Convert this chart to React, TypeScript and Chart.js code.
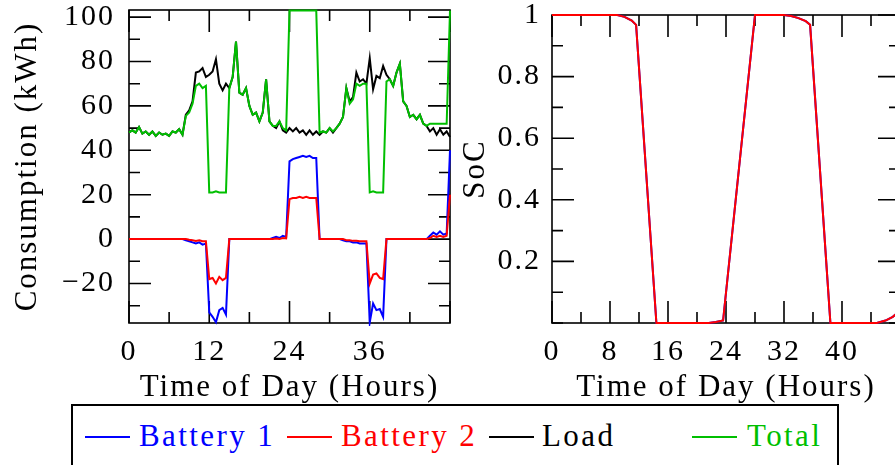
import React, { useEffect, useRef } from "react";
import { Chart, registerables } from "chart.js";

Chart.register(...registerables);

// ---------- DATA ----------
const hours = [
  0, 0.5, 1, 1.5, 2, 2.5, 3, 3.5, 4, 4.5,
  5, 5.5, 6, 6.5, 7, 7.5, 8, 8.5, 9, 9.5,
  10, 10.5, 11, 11.5, 12, 12.5, 13, 13.5, 14, 14.5,
  15, 15.5, 16, 16.5, 17, 17.5, 18, 18.5, 19, 19.5,
  20, 20.5, 21, 21.5, 22, 22.5, 23, 23.5, 24, 24.5,
  25, 25.5, 26, 26.5, 27, 27.5, 28, 28.5, 29, 29.5,
  30, 30.5, 31, 31.5, 32, 32.5, 33, 33.5, 34, 34.5,
  35, 35.5, 36, 36.5, 37, 37.5, 38, 38.5, 39, 39.5,
  40, 40.5, 41, 41.5, 42, 42.5, 43, 43.5, 44, 44.5,
  45, 45.5, 46, 46.5, 47, 47.5, 48,
];

const battery1 = [
  0, 0, 0, 0, 0, 0, 0, 0, 0, 0,
  0, 0, 0, 0, 0, 0, 0, -0.5, -1, -1.5,
  -2, -1.5, -2.5, -2, -33, -35, -37.5, -32, -31, -34,
  0, 0, 0, 0, 0, 0, 0, 0, 0, 0,
  0, 0, 0, 0.5, 1, 0.5, 1.5, 1, 35, 36,
  36.5, 37, 37.5, 37, 37.5, 36.5, 36.5, 0, 0, 0,
  0, 0, 0, 0, -0.5, -1, -1, -1.5, -1.5, -2,
  -2, -2, -37.5, -29, -32, -31.5, -35, 0, 0, 0,
  0, 0, 0, 0, 0, 0, 0, 0, 0, 0,
  1.5, 3, 2, 3.5, 2, 2.5, 40,
];

const battery2 = [
  0, 0, 0, 0, 0, 0, 0, 0, 0, 0,
  0, 0, 0, 0, 0, 0, 0, 0, -0.3, -0.5,
  -0.8, -0.5, -1, -1, -18, -17.5, -20, -17, -18.5, -17.5,
  0, 0, 0, 0, 0, 0, 0, 0, 0, 0,
  0, 0, 0, 0, 0.3, 0, 0.5, 0.3, 18, 18.5,
  18.5, 19, 18.5, 19, 18.5, 18.5, 18.5, 0, 0, 0,
  0, 0, 0, 0, 0, -0.5, -0.5, -0.8, -0.8, -1,
  -1, -1, -20, -16, -15.5, -17.5, -18, 0, 0, 0,
  0, 0, 0, 0, 0, 0, 0, 0, 0, 0,
  0.5, 1.5, 1, 1.5, 1, 1.5, 20,
];

const load = [
  48, 49, 48, 50.5, 47.5, 48.5, 47, 48.5, 46.5, 48,
  47, 47.5, 46.5, 48.5, 48, 49.5, 47, 56, 58, 62,
  75, 75.5, 77, 73, 74, 75.5, 81, 70, 67, 70,
  68, 73, 89, 66, 65, 68, 60, 56, 57, 53,
  57, 72, 53, 51, 50, 53, 49, 48, 50, 48.5,
  50, 48, 49, 47, 49, 47, 48.5, 47, 48.5, 48,
  50, 48, 50, 52, 55, 68, 62, 64, 75, 71,
  72, 70, 81.5, 67.5, 73.5, 72.5, 78, 74, 72, 69,
  75, 79, 62, 60, 55, 56, 54, 56, 52, 51,
  48.5, 50, 47, 49.5, 47, 48.5, 46,
];

const total = [
  48, 49, 48, 50.5, 47.5, 48.5, 47, 48.5, 46.5, 48,
  47, 47.5, 46.5, 48.5, 48, 49.5, 47, 55.5, 57, 61,
  69, 70, 68, 69, 21, 21, 21.5, 21, 21, 21,
  68, 73, 89, 66, 65, 68, 60, 56, 57, 53,
  57, 72, 53, 51, 51, 53, 50, 49, 103, 103,
  103, 103, 103, 103, 103, 103, 103, 48, 48.5, 48,
  50, 48.5, 50, 52, 55, 68, 61, 63, 70, 69,
  70, 70, 21, 21.5, 21, 21, 21, 71, 72, 69,
  75, 79, 62, 60, 55, 56, 54, 56, 52, 51,
  52, 52, 52, 52, 52, 52, 103,
];

const socHours = [0, 8, 9, 10, 11, 11.6, 14.4, 21.6, 22.6, 23.6, 28, 32, 33, 34, 35, 35.6, 38.4, 44.8, 46, 47, 48];
const socBattery1 = [1, 1, 1, 0.994, 0.982, 0.968, 0, 0, 0.003, 0.008, 1, 1, 0.997, 0.99, 0.98, 0.968, 0, 0, 0.008, 0.02, 0.04];
const socBattery2 = [1, 1, 1, 0.994, 0.982, 0.968, 0, 0, 0.003, 0.008, 1, 1, 0.997, 0.99, 0.98, 0.968, 0, 0, 0.008, 0.02, 0.04];

const consumptionTickLabels = [-20, 0, 20, 40, 60, 80, 100];
const leftHourTickLabels = [0, 12, 24, 36];
const socTickLabels = [0.2, 0.4, 0.6, 0.8, 1];
const rightHourTickLabels = [0, 8, 16, 24, 32, 40];

const seriesNames = ["Battery 1", "Battery 2", "Load", "Total"];
const seriesColors = ["#0000ff", "#ff0000", "#000000", "#00bf00"];

// ---------- HELPERS ----------
const FONT = "'Liberation Serif', 'Times New Roman', serif";

function near(list: number[], v: number) {
  return list.find((t) => Math.abs(t - v) < 1e-6);
}

function fmt(v: number) {
  const a = Math.abs(v);
  const s = Number.isInteger(a) ? String(a) : a.toFixed(1);
  return v < 0 ? "\u2212" + s : s;
}

function pts(xs: number[], ys: number[]) {
  return xs.map((x, i) => ({ x, y: ys[i] }));
}

function frameTicks(xMajors: number[], yMajors: number[]) {
  return {
    id: "frameTicks",
    beforeDraw(chart: any) {
      chart.ctx.letterSpacing = "2px";
    },
    beforeDatasetsDraw(chart: any) {
      const { ctx, chartArea } = chart;
      const { left, right, top, bottom } = chartArea;
      const xs = chart.scales.x;
      const ys = chart.scales.y;
      ctx.save();
      ctx.strokeStyle = "#000";
      ctx.lineWidth = 1.6;
      ctx.beginPath();
      for (const t of xs.ticks) {
        const p = xs.getPixelForValue(t.value);
        const len = near(xMajors, t.value) !== undefined ? 22 : 11;
        ctx.moveTo(p, bottom);
        ctx.lineTo(p, bottom - len);
        ctx.moveTo(p, top);
        ctx.lineTo(p, top + len);
      }
      for (const t of ys.ticks) {
        const p = ys.getPixelForValue(t.value);
        const len = near(yMajors, t.value) !== undefined ? 22 : 11;
        ctx.moveTo(left, p);
        ctx.lineTo(left + len, p);
        ctx.moveTo(right, p);
        ctx.lineTo(right - len, p);
      }
      ctx.stroke();
      ctx.strokeRect(left, top, right - left, bottom - top);
      ctx.restore();
    },
  };
}

function axisX(labels: number[], step: number, title: string) {
  return {
    type: "linear",
    min: 0,
    max: 48,
    ticks: {
      stepSize: step,
      autoSkip: false,
      maxRotation: 0,
      minRotation: 0,
      includeBounds: false,
      padding: 11.5,
      color: "#000",
      font: { family: FONT, size: 30 },
      callback: (v: number) => {
        const m = near(labels, v);
        return m === undefined ? "" : fmt(m);
      },
    },
    grid: { display: false, drawTicks: false },
    border: { display: false },
    title: {
      display: true,
      text: title,
      color: "#000",
      font: { family: FONT, size: 31, lineHeight: 1 },
      padding: { top: 0, bottom: 17 },
    },
    afterFit: (s: any) => {
      s.height = 97;
      s.paddingLeft = 0;
      s.paddingRight = 0;
    },
  };
}

function axisY(min: number, max: number, step: number, labels: number[], title: string, width: number, pad: number, titlePad: number) {
  return {
    type: "linear",
    min,
    max,
    ticks: {
      stepSize: step,
      autoSkip: false,
      includeBounds: false,
      padding: pad,
      color: "#000",
      font: { family: FONT, size: 30 },
      callback: (v: number) => {
        const m = near(labels, v);
        return m === undefined ? "" : fmt(m);
      },
    },
    grid: { display: false, drawTicks: false },
    border: { display: false },
    title: {
      display: true,
      text: title,
      color: "#000",
      font: { family: FONT, size: 31, lineHeight: 1 },
      padding: { top: titlePad, bottom: 0 },
    },
    afterFit: (s: any) => {
      s.width = width;
      s.paddingTop = 0;
      s.paddingBottom = 0;
    },
  };
}

function lineDs(label: string, data: any[], color: string, order: number) {
  return {
    label,
    data,
    borderColor: color,
    backgroundColor: color,
    borderWidth: 2,
    pointRadius: 0,
    pointHoverRadius: 0,
    tension: 0,
    fill: false,
    order,
    clip: 3,
  };
}

export default function App() {
  const leftRef = useRef<HTMLCanvasElement>(null);
  const rightRef = useRef<HTMLCanvasElement>(null);

  useEffect(() => {
    document.body.style.margin = "0";
    const left = new Chart(leftRef.current as HTMLCanvasElement, {
      type: "line",
      data: {
        datasets: [
          lineDs(seriesNames[0], pts(hours, battery1), seriesColors[0], 3),
          lineDs(seriesNames[1], pts(hours, battery2), seriesColors[1], 2),
          lineDs(seriesNames[2], pts(hours, load), seriesColors[2], 1),
          lineDs(seriesNames[3], pts(hours, total), seriesColors[3], 0),
        ],
      } as any,
      options: {
        animation: false,
        responsive: false,
        devicePixelRatio: 1,
        layout: { padding: { left: 0, right: 10, top: 10, bottom: 0 } },
        plugins: { legend: { display: false }, tooltip: { enabled: false } },
        events: [],
        scales: {
          x: axisX(leftHourTickLabels, 6, "Time of Day (Hours)"),
          y: axisY(-37.8, 103.2, 10, consumptionTickLabels, "Consumption (kWh)", 129, 14, 12.5),
        },
      } as any,
      plugins: [frameTicks(leftHourTickLabels.concat([48]), consumptionTickLabels)],
    });

    const right = new Chart(rightRef.current as HTMLCanvasElement, {
      type: "line",
      data: {
        datasets: [
          lineDs(seriesNames[0], pts(socHours, socBattery1), seriesColors[0], 1),
          lineDs(seriesNames[1], pts(socHours, socBattery2), seriesColors[1], 0),
        ],
      } as any,
      options: {
        animation: false,
        responsive: false,
        devicePixelRatio: 1,
        layout: { padding: { left: 0, right: 20, top: 15, bottom: 0 } },
        plugins: { legend: { display: false }, tooltip: { enabled: false } },
        events: [],
        scales: {
          x: axisX(rightHourTickLabels, 4, "Time of Day (Hours)"),
          y: axisY(0, 1, 0.1, socTickLabels, "SoC", 92, 11, 0),
        },
      } as any,
      plugins: [frameTicks(rightHourTickLabels.concat([48]), socTickLabels)],
    });

    return () => {
      left.destroy();
      right.destroy();
    };
  }, []);

  const legendLineX = [85, 287, 489, 692];
  const legendTextX = [139, 341, 542, 747];

  return (
    <div style={{ position: "fixed", left: 0, top: 0, width: 895, height: 465, overflow: "hidden", background: "#fff" }}>
      <canvas ref={leftRef} width={460} height={420} style={{ position: "absolute", left: 0, top: 0 }} />
      <canvas ref={rightRef} width={460} height={420} style={{ position: "absolute", left: 460, top: 0 }} />
      <div
        style={{
          position: "absolute",
          left: 71,
          top: 404,
          width: 768,
          height: 100,
          boxSizing: "border-box",
          border: "2px solid #000",
          background: "#fff",
        }}
      />
      {seriesNames.map((name, i) => (
        <React.Fragment key={name}>
          <div
            style={{
              position: "absolute",
              left: legendLineX[i],
              top: 436,
              width: 45,
              height: 2,
              background: seriesColors[i],
            }}
          />
          <div
            style={{
              position: "absolute",
              left: legendTextX[i],
              top: 420,
              fontFamily: FONT,
              fontSize: 31,
              lineHeight: "31px",
              letterSpacing: "2.4px",
              color: seriesColors[i],
              whiteSpace: "nowrap",
            }}
          >
            {name}
          </div>
        </React.Fragment>
      ))}
    </div>
  );
}
